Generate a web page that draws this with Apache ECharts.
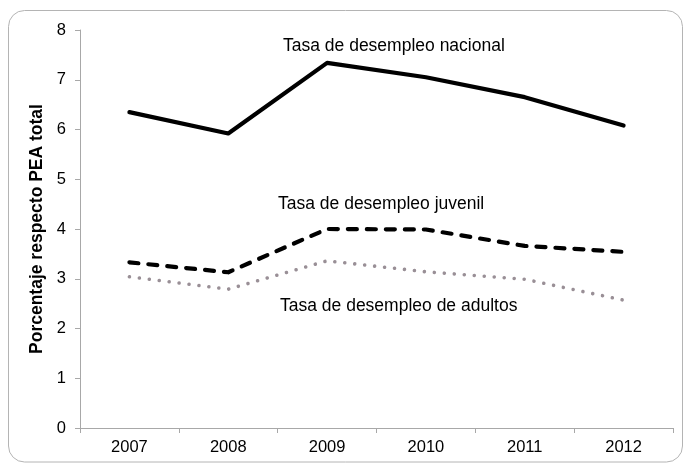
<!DOCTYPE html>
<html>
<head>
<meta charset="utf-8">
<script src="https://cdn.jsdelivr.net/npm/echarts@6/dist/echarts.min.js"></script>
<style>
html,body{margin:0;padding:0;background:#fff;}
#chart{width:683px;height:463px;}
</style>
</head>
<body>
<div id="chart"></div>
<script>
var categories = ['2007', '2008', '2009', '2010', '2011', '2012'];
var nacional = [6.35, 5.92, 7.34, 7.05, 6.65, 6.08];
var juvenil = [3.33, 3.13, 4.00, 3.99, 3.66, 3.54];
var adultos = [3.04, 2.79, 3.36, 3.14, 2.99, 2.57];
var yTicks = [0, 1, 2, 3, 4, 5, 6, 7, 8];

var chart = echarts.init(document.getElementById('chart'));
var font = 'Liberation Sans, Arial, sans-serif';
chart.setOption({
  animation: false,
  backgroundColor: '#fff',
  grid: { left: 80, right: 10, top: 30, bottom: 35 },
  xAxis: {
    type: 'category',
    data: categories,
    boundaryGap: true,
    axisLine: { lineStyle: { color: '#a8a8a8', width: 1 } },
    axisTick: { show: true, length: 5, lineStyle: { color: '#a8a8a8' } },
    axisLabel: { color: '#000', fontFamily: font, fontSize: 16.5, margin: 11 }
  },
  yAxis: {
    type: 'value',
    min: yTicks[0],
    max: yTicks[yTicks.length - 1],
    interval: 1,
    name: 'Porcentaje respecto PEA total',
    nameLocation: 'middle',
    nameGap: 33,
    nameTextStyle: { color: '#000', fontFamily: font, fontSize: 17.5, fontWeight: 'bold' },
    axisLine: { show: true, lineStyle: { color: '#a8a8a8', width: 1 } },
    axisTick: { show: true, length: 5, inside: false, lineStyle: { color: '#a8a8a8' } },
    splitLine: { show: false },
    axisLabel: { color: '#000', fontFamily: font, fontSize: 16.5, margin: 14 }
  },
  graphic: [
    { type: 'rect', shape: { x: 8.5, y: 10.5, width: 674, height: 451.5, r: 16 },
      style: { fill: 'none', stroke: '#b4b4b4', lineWidth: 1 }, silent: true, z: -1 },
    { type: 'text', left: 283, top: 37,
      style: { text: 'Tasa de desempleo nacional', fill: '#000', font: '17.5px ' + font } },
    { type: 'text', left: 278, top: 195,
      style: { text: 'Tasa de desempleo juvenil', fill: '#000', font: '17.5px ' + font } },
    { type: 'text', left: 280, top: 297.5,
      style: { text: 'Tasa de desempleo de adultos', fill: '#000', font: '17.5px ' + font } }
  ],
  series: [
    { name: 'Tasa de desempleo nacional', type: 'line', data: nacional, symbol: 'none',
      lineStyle: { color: '#000', width: 4.2, cap: 'round', join: 'round' } },
    { name: 'Tasa de desempleo juvenil', type: 'line', data: juvenil, symbol: 'none',
      lineStyle: { color: '#000', width: 4.2, type: [9, 10], cap: 'round', join: 'round' } },
    { name: 'Tasa de desempleo de adultos', type: 'line', data: adultos, symbol: 'none',
      lineStyle: { color: '#998f96', width: 3.6, type: [0.01, 10], cap: 'round', join: 'round' } }
  ]
});
</script>
</body>
</html>
